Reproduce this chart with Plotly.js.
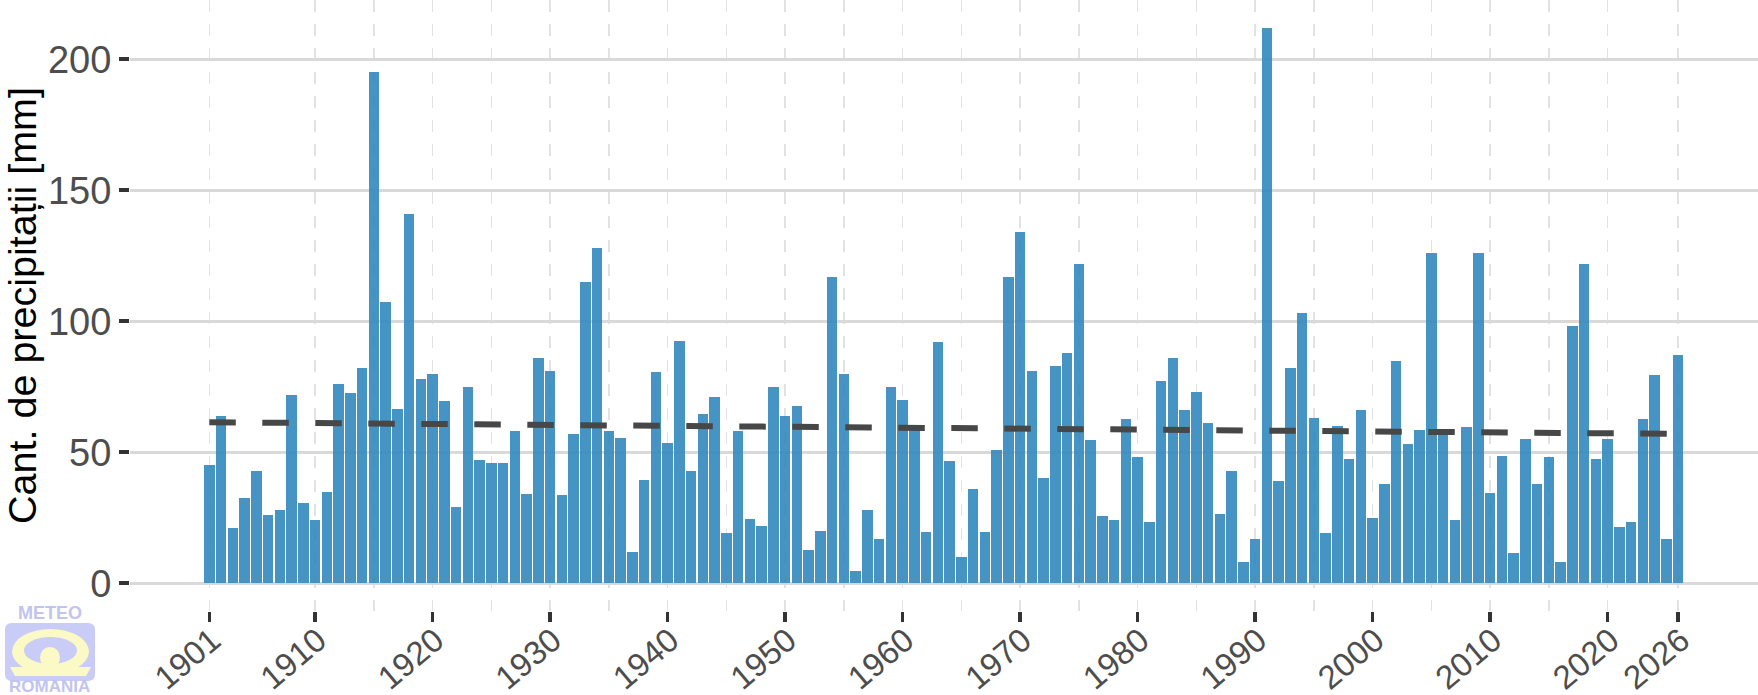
<!DOCTYPE html>
<html>
<head>
<meta charset="utf-8">
<script src="https://cdn.plot.ly/plotly-3.0.1.min.js"></script>
<style>
html, body { margin: 0; padding: 0; background: #ffffff; }
#chart { width: 1758px; height: 695px; }
</style>
</head>
<body>
<div id="chart"></div>
<script>
// ---- data ----
const years = [
  1901,1902,1903,1904,1905,1906,1907,1908,1909,1910,
  1911,1912,1913,1914,1915,1916,1917,1918,1919,1920,
  1921,1922,1923,1924,1925,1926,1927,1928,1929,1930,
  1931,1932,1933,1934,1935,1936,1937,1938,1939,1940,
  1941,1942,1943,1944,1945,1946,1947,1948,1949,1950,
  1951,1952,1953,1954,1955,1956,1957,1958,1959,1960,
  1961,1962,1963,1964,1965,1966,1967,1968,1969,1970,
  1971,1972,1973,1974,1975,1976,1977,1978,1979,1980,
  1981,1982,1983,1984,1985,1986,1987,1988,1989,1990,
  1991,1992,1993,1994,1995,1996,1997,1998,1999,2000,
  2001,2002,2003,2004,2005,2006,2007,2008,2009,2010,
  2011,2012,2013,2014,2015,2016,2017,2018,2019,2020,
  2021,2022,2023,2024,2025,2026
];
const precipitation = [
  45, 64, 21, 32.5, 43, 26, 28, 72, 30.5, 24,
  35, 76, 72.5, 82, 195, 107.5, 66.5, 141, 78, 80,
  69.5, 29, 75, 47, 46, 46, 58, 34, 86, 81,
  33.5, 57, 115, 128, 58, 55.5, 12, 39.5, 80.5, 53.5,
  92.5, 43, 64.5, 71, 19, 58, 24.5, 22, 75, 64,
  67.5, 12.5, 20, 117, 80, 4.5, 28, 17, 75, 70,
  59, 19.5, 92, 46.5, 10, 36, 19.5, 51, 117, 134,
  81, 40, 83, 88, 122, 54.5, 25.5, 24, 62.5, 48,
  23.5, 77, 86, 66, 73, 61, 26.5, 43, 8, 17,
  212, 39, 82, 103, 63, 19, 60, 47.5, 66, 25,
  38, 85, 53, 58.5, 126, 57, 24, 59.5, 126, 34.5,
  48.5, 11.5, 55, 38, 48, 8, 98, 122, 47.5, 55,
  21.5, 23.5, 62.5, 79.5, 17, 87
];
const trendYears = [1901, 2026];
const trendValues = [61.45, 57.0];

const xTickVals = [1901, 1910, 1920, 1930, 1940, 1950, 1960, 1970, 1980, 1990, 2000, 2010, 2020, 2026];
const xTickText = ['1901', '1910', '1920', '1930', '1940', '1950', '1960', '1970', '1980', '1990', '2000', '2010', '2020', '2026'];
const xMinorVals = [1915, 1925, 1935, 1945, 1955, 1965, 1975, 1985, 1995, 2005, 2015];
const yTickVals = [0, 50, 100, 150, 200];
const yTickText = ['0', '50', '100', '150', '200'];
const yAxisTitle = 'Cant. de precipitații [mm]';
const logoTop = 'METEO';
const logoBottom = 'ROMANIA';

// ---- layout helpers (pixel -> paper) ----
const W = 1758, H = 695;
const M = { l: 130, r: 0, t: 0, b: 84 };
const PW = W - M.l - M.r, PH = H - M.t - M.b;
const px = X => (X - M.l) / PW;
const py = Y => (H - M.b - Y) / PH;

function roundedRect(x0, y0, x1, y1, r) {
  return 'M ' + px(x0 + r) + ',' + py(y0) +
    ' L ' + px(x1 - r) + ',' + py(y0) +
    ' Q ' + px(x1) + ',' + py(y0) + ' ' + px(x1) + ',' + py(y0 + r) +
    ' L ' + px(x1) + ',' + py(y1 - r) +
    ' Q ' + px(x1) + ',' + py(y1) + ' ' + px(x1 - r) + ',' + py(y1) +
    ' L ' + px(x0 + r) + ',' + py(y1) +
    ' Q ' + px(x0) + ',' + py(y1) + ' ' + px(x0) + ',' + py(y1 - r) +
    ' L ' + px(x0) + ',' + py(y0 + r) +
    ' Q ' + px(x0) + ',' + py(y0) + ' ' + px(x0 + r) + ',' + py(y0) + ' Z';
}

const FONT = 'Liberation Sans, Arial, Helvetica, sans-serif';
const logoBlue = '#c9ccf6';
const logoText = '#c2c4f0';
const logoYellow = '#fbf9c6';

const shapes = [
  { type: 'path', xref: 'paper', yref: 'paper', path: roundedRect(5, 623, 95, 681, 7),
    fillcolor: logoBlue, line: { width: 0 }, layer: 'above' },
  { type: 'circle', xref: 'paper', yref: 'paper', x0: px(12), x1: px(89), y0: py(674), y1: py(629),
    fillcolor: logoYellow, line: { width: 0 }, layer: 'above' },
  { type: 'circle', xref: 'paper', yref: 'paper', x0: px(24), x1: px(77), y0: py(664), y1: py(637),
    fillcolor: logoBlue, line: { width: 0 }, layer: 'above' },
  { type: 'circle', xref: 'paper', yref: 'paper', x0: px(40), x1: px(60), y0: py(668), y1: py(647),
    fillcolor: logoYellow, line: { width: 0 }, layer: 'above' },
  { type: 'path', xref: 'paper', yref: 'paper',
    path: 'M ' + px(10) + ',' + py(667) + ' L ' + px(91) + ',' + py(667) + ' L ' + px(86) + ',' + py(676) +
          ' L ' + px(15) + ',' + py(676) + ' Z',
    fillcolor: logoYellow, line: { width: 0 }, layer: 'above' }
];

const annotations = [
  { xref: 'paper', yref: 'paper', x: px(50), y: py(613), text: '<b>' + logoTop + '</b>', showarrow: false,
    xanchor: 'center', yanchor: 'middle', font: { family: FONT, size: 18, color: logoText } },
  { xref: 'paper', yref: 'paper', x: px(49), y: py(686), text: '<b>' + logoBottom + '</b>', showarrow: false,
    xanchor: 'center', yanchor: 'middle', font: { family: FONT, size: 17, color: logoText } }
];

const traces = [
  {
    type: 'bar',
    x: years,
    y: precipitation,
    width: 0.9,
    marker: { color: '#3288bd', opacity: 0.9, line: { width: 0 } },
    hoverinfo: 'x+y',
    showlegend: false
  },
  {
    type: 'scatter',
    mode: 'lines',
    x: trendYears,
    y: trendValues,
    line: { color: '#474747', width: 6, dash: '26.5px,26.5px' },
    hoverinfo: 'skip',
    showlegend: false
  }
];

const layout = {
  width: W,
  height: H,
  margin: M,
  paper_bgcolor: '#ffffff',
  plot_bgcolor: '#ffffff',
  bargap: 0,
  font: { family: FONT },
  xaxis: {
    range: [1894.25, 2032.8],
    tickmode: 'array',
    tickvals: xTickVals,
    ticktext: xTickText,
    tickangle: -40,
    ticks: 'outside',
    ticklen: 10,
    tickwidth: 3.5,
    tickcolor: '#333333',
    ticklabelstandoff: -14,
    ticklabelshift: 3,
    tickfont: { family: FONT, size: 33, color: '#4d4d4d' },
    showgrid: true,
    gridcolor: '#e2e2e2',
    gridwidth: 1.4,
    griddash: '12px,12px',
    minor: {
      tickmode: 'array',
      tickvals: xMinorVals,
      showgrid: true,
      gridcolor: '#e2e2e2',
      gridwidth: 1.4,
      griddash: '12px,12px',
      ticks: ''
    },
    zeroline: false,
    showline: false,
    automargin: false,
    fixedrange: true
  },
  yaxis: {
    range: [-10.6, 222.6],
    tickmode: 'array',
    tickvals: yTickVals,
    ticktext: yTickText,
    ticks: 'outside',
    ticklen: 10,
    tickwidth: 3.5,
    tickcolor: '#333333',
    ticklabelstandoff: 0,
    tickfont: { family: FONT, size: 38, color: '#4d4d4d' },
    showgrid: true,
    gridcolor: '#d9d9d9',
    gridwidth: 3,
    zeroline: false,
    showline: false,
    automargin: false,
    title: { text: yAxisTitle, standoff: 4, font: { family: FONT, size: 39.5, color: '#000000' } },
    fixedrange: true
  },
  shapes: shapes,
  annotations: annotations
};

Plotly.newPlot('chart', traces, layout, { displayModeBar: false, staticPlot: true });
</script>
</body>
</html>
